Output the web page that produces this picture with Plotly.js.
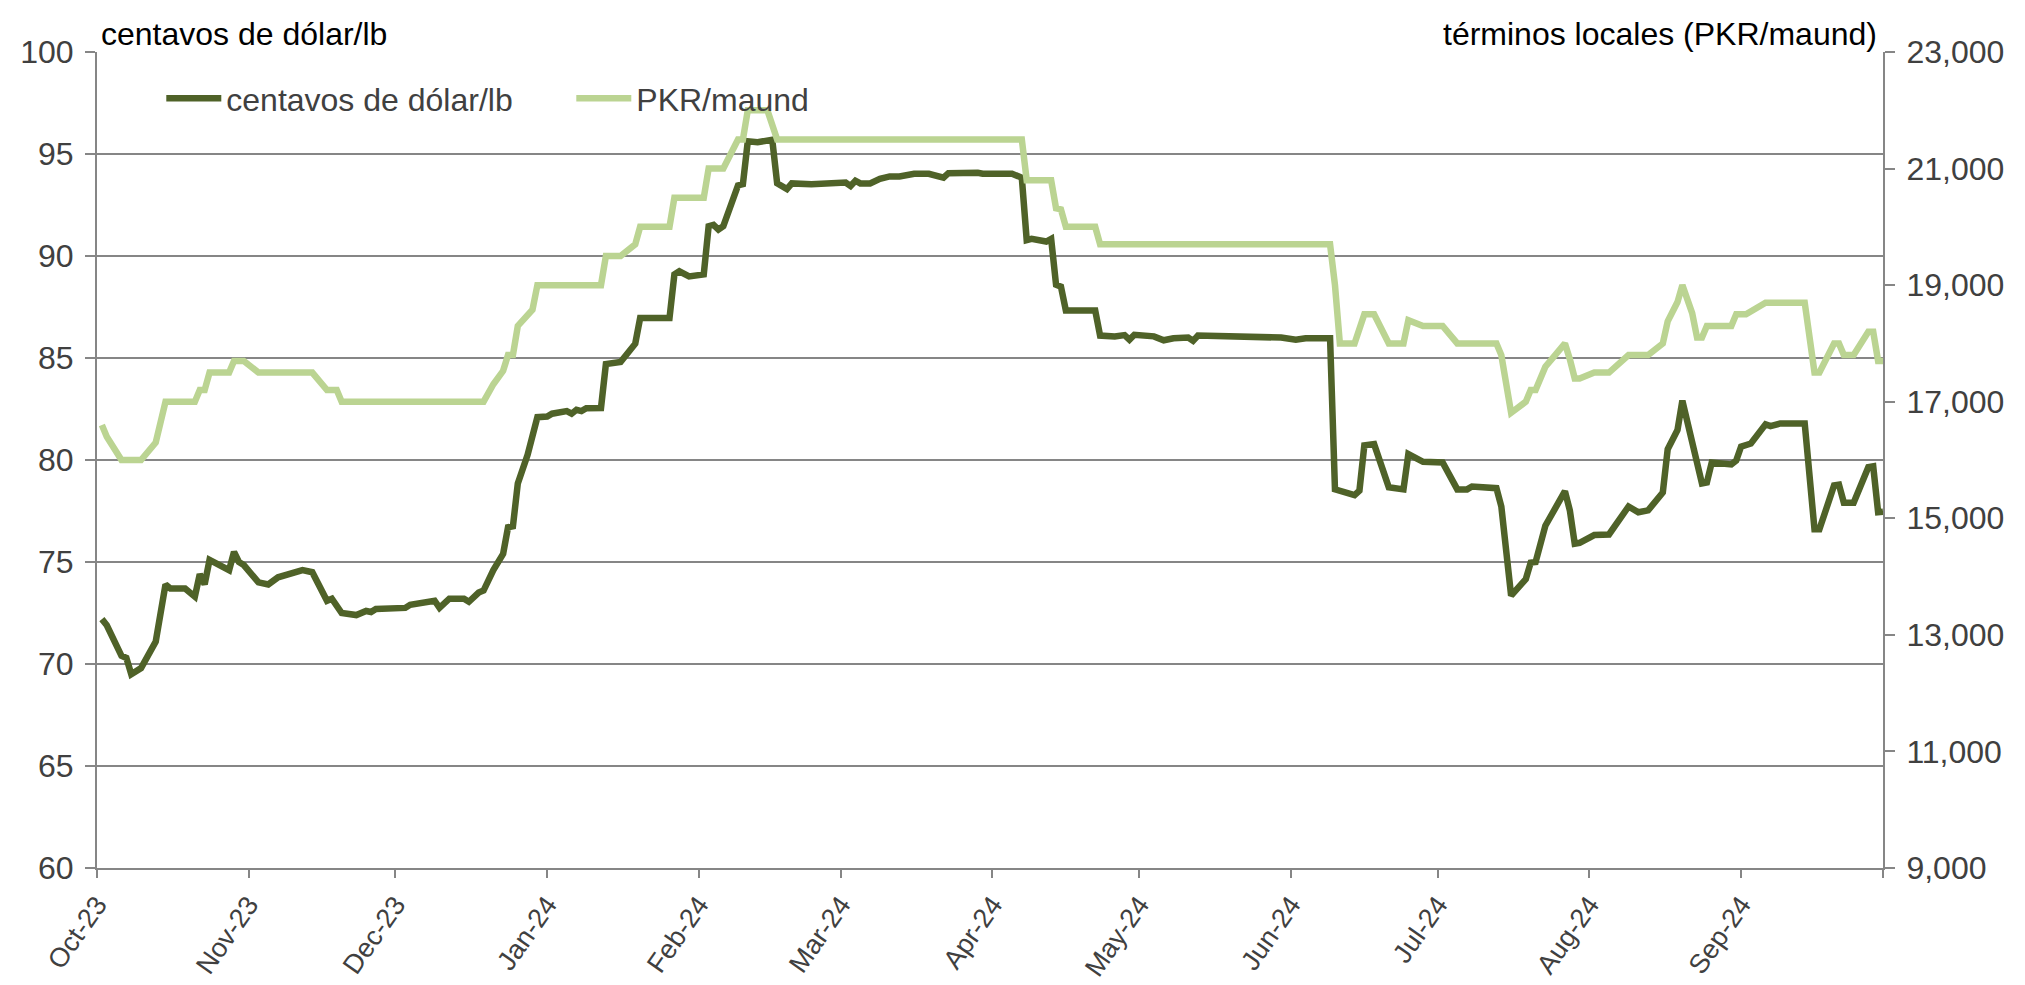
<!DOCTYPE html>
<html>
<head>
<meta charset="utf-8">
<script src="https://cdn.plot.ly/plotly-3.0.1.min.js"></script>
<style>
  html, body { margin: 0; padding: 0; background: #ffffff; }
  #chart { width: 2025px; height: 985px; }
</style>
</head>
<body>
<div id="chart"></div>
<script>
// ---- Data ----
const usdDates = [
  "2023-10-02","2023-10-03","2023-10-06","2023-10-07","2023-10-08","2023-10-10","2023-10-13","2023-10-15","2023-10-16","2023-10-19",
  "2023-10-21","2023-10-22","2023-10-23","2023-10-24","2023-10-28","2023-10-29","2023-10-30","2023-10-31","2023-11-03","2023-11-05",
  "2023-11-07","2023-11-12","2023-11-14","2023-11-17","2023-11-18","2023-11-20","2023-11-23","2023-11-25","2023-11-26","2023-11-27",
  "2023-12-03","2023-12-04","2023-12-09","2023-12-10","2023-12-12","2023-12-15","2023-12-16","2023-12-18","2023-12-19","2023-12-21",
  "2023-12-23","2023-12-24","2023-12-25","2023-12-26","2023-12-28","2023-12-30","2024-01-01","2024-01-02","2024-01-05","2024-01-06",
  "2024-01-07","2024-01-08","2024-01-09","2024-01-12","2024-01-13","2024-01-16","2024-01-19","2024-01-20","2024-01-26","2024-01-27",
  "2024-01-28","2024-01-30","2024-02-02","2024-02-03","2024-02-04","2024-02-05","2024-02-06","2024-02-09","2024-02-10","2024-02-11",
  "2024-02-13","2024-02-16","2024-02-17","2024-02-18","2024-02-19","2024-02-20","2024-02-24","2024-03-02","2024-03-03","2024-03-04",
  "2024-03-05","2024-03-07","2024-03-09","2024-03-11","2024-03-13","2024-03-16","2024-03-19","2024-03-22","2024-03-23","2024-03-29",
  "2024-03-30","2024-04-05","2024-04-07","2024-04-08","2024-04-09","2024-04-12","2024-04-13","2024-04-14","2024-04-15","2024-04-16",
  "2024-04-22","2024-04-23","2024-04-26","2024-04-28","2024-04-29","2024-04-30","2024-05-04","2024-05-06","2024-05-08","2024-05-11",
  "2024-05-12","2024-05-13","2024-05-24","2024-05-26","2024-05-30","2024-06-02","2024-06-04","2024-06-09","2024-06-10","2024-06-14",
  "2024-06-15","2024-06-16","2024-06-18","2024-06-21","2024-06-24","2024-06-25","2024-06-28","2024-07-02","2024-07-05","2024-07-07",
  "2024-07-08","2024-07-13","2024-07-14","2024-07-16","2024-07-19","2024-07-20","2024-07-21","2024-07-23","2024-07-25","2024-07-27",
  "2024-07-28","2024-07-29","2024-07-30","2024-08-02","2024-08-05","2024-08-09","2024-08-11","2024-08-13","2024-08-16","2024-08-17",
  "2024-08-19","2024-08-20","2024-08-24","2024-08-25","2024-08-26","2024-08-30","2024-08-31","2024-09-01","2024-09-03","2024-09-06",
  "2024-09-07","2024-09-09","2024-09-14","2024-09-16","2024-09-17","2024-09-20","2024-09-21","2024-09-22","2024-09-24","2024-09-27",
  "2024-09-28","2024-09-29","2024-09-30"
];
const usdCentsPerLb = [
  72.2,71.9,70.4,70.3,69.5,69.8,71.1,73.9,73.7,73.7,
  73.3,74.4,73.9,75.1,74.6,75.5,75.0,74.85,74.0,73.9,
  74.25,74.6,74.5,73.1,73.2,72.5,72.4,72.6,72.55,72.7,
  72.75,72.9,73.1,72.75,73.2,73.2,73.05,73.5,73.6,74.6,
  75.4,76.7,76.75,78.85,80.25,82.1,82.13,82.27,82.4,82.27,
  82.46,82.4,82.54,82.55,84.7,84.8,85.7,86.96,86.96,89.1,
  89.25,89.0,89.1,91.46,91.53,91.3,91.46,93.46,93.52,95.62,
  95.58,95.7,93.56,93.46,93.28,93.56,93.52,93.6,93.43,93.69,
  93.56,93.56,93.78,93.9,93.9,94.03,94.03,93.84,94.06,94.08,
  94.03,94.03,93.84,90.78,90.84,90.71,90.84,88.59,88.5,87.33,
  87.33,86.1,86.06,86.12,85.9,86.14,86.06,85.87,85.97,86.0,
  85.84,86.1,86.0,86.06,86.0,85.9,85.97,85.97,78.56,78.28,
  78.5,80.72,80.78,78.66,78.56,80.29,79.91,79.88,78.56,78.56,
  78.7,78.62,77.72,73.35,74.16,74.97,75.0,76.78,77.63,78.47,
  77.53,75.9,75.94,76.32,76.35,77.72,77.44,77.53,78.41,80.53,
  81.47,82.91,78.85,78.9,79.88,79.78,79.97,80.66,80.81,81.75,
  81.66,81.79,81.79,76.6,76.6,78.75,78.79,77.91,77.91,79.65,
  79.69,77.44,77.47
];
const pkrDates = [
  "2023-10-02","2023-10-03","2023-10-06","2023-10-10","2023-10-13","2023-10-15","2023-10-21","2023-10-22","2023-10-23","2023-10-24",
  "2023-10-28","2023-10-29","2023-10-31","2023-11-03","2023-11-14","2023-11-17","2023-11-19","2023-11-20","2023-12-19","2023-12-21",
  "2023-12-23","2023-12-24","2023-12-25","2023-12-26","2023-12-29","2023-12-30","2024-01-12","2024-01-13","2024-01-16","2024-01-19",
  "2024-01-20","2024-01-26","2024-01-27","2024-02-02","2024-02-03","2024-02-06","2024-02-09","2024-02-10","2024-02-11","2024-02-15",
  "2024-02-17","2024-04-07","2024-04-08","2024-04-13","2024-04-14","2024-04-15","2024-04-16","2024-04-22","2024-04-23","2024-06-09",
  "2024-06-10","2024-06-11","2024-06-14","2024-06-16","2024-06-18","2024-06-21","2024-06-24","2024-06-25","2024-06-28","2024-07-02",
  "2024-07-05","2024-07-13","2024-07-14","2024-07-16","2024-07-19","2024-07-20","2024-07-21","2024-07-23","2024-07-25","2024-07-27",
  "2024-07-28","2024-07-29","2024-07-30","2024-08-02","2024-08-05","2024-08-09","2024-08-13","2024-08-16","2024-08-17","2024-08-19",
  "2024-08-20","2024-08-22","2024-08-23","2024-08-24","2024-08-25","2024-08-30","2024-08-31","2024-09-02","2024-09-06","2024-09-14",
  "2024-09-16","2024-09-17","2024-09-20","2024-09-21","2024-09-22","2024-09-24","2024-09-27","2024-09-28","2024-09-29","2024-09-30"
];
const pkrPerMaund = [
  16600,16400,16000,16000,16300,17000,17000,17200,17200,17500,
  17500,17700,17700,17500,17500,17200,17200,17000,17000,17300,
  17530,17800,17800,18300,18580,19000,19000,19500,19500,19700,
  20000,20000,20500,20500,21000,21000,21500,21500,22000,22000,
  21500,21500,20800,20800,20320,20300,20000,20000,19700,19700,
  19000,18000,18000,18500,18500,18000,18000,18400,18300,18300,
  18000,18000,17800,16810,17000,17200,17200,17600,17800,18000,
  17730,17400,17400,17500,17500,17800,17800,18000,18380,18710,
  19000,18520,18100,18100,18300,18300,18500,18500,18700,18700,
  17500,17500,18000,18000,17800,17800,18200,18200,17700,17700
];
const monthTicks = ["2023-10-01","2023-11-01","2023-12-01","2024-01-01","2024-02-01","2024-03-01",
                    "2024-04-01","2024-05-01","2024-06-01","2024-07-01","2024-08-01","2024-09-01","2024-09-30"];
const monthLabels = ["Oct-23","Nov-23","Dec-23","Jan-24","Feb-24","Mar-24",
                     "Apr-24","May-24","Jun-24","Jul-24","Aug-24","Sep-24",""];
const seriesNames = ["centavos de dólar/lb", "PKR/maund"];
const leftTitle = "centavos de dólar/lb";
const rightTitle = "términos locales (PKR/maund)";

// ---- Style ----
const FONT = "'Liberation Sans', Arial, Helvetica, sans-serif";
const GRID = "#868686";
const TXT = "#404040";

const traces = [
  {
    x: usdDates, y: usdCentsPerLb, name: seriesNames[0], type: "scatter", mode: "lines",
    line: { color: "#4F6228", width: 6.5, shape: "linear" }, yaxis: "y", hoverinfo: "x+y"
  },
  {
    x: pkrDates, y: pkrPerMaund, name: seriesNames[1], type: "scatter", mode: "lines",
    line: { color: "#BBD492", width: 6.5, shape: "linear" }, yaxis: "y2", hoverinfo: "x+y"
  }
];

const layout = {
  width: 2025, height: 985,
  margin: { l: 97, r: 142, t: 52, b: 117, pad: 0 },
  paper_bgcolor: "#ffffff", plot_bgcolor: "#ffffff",
  font: { family: FONT, size: 30, color: TXT },
  showlegend: true,
  legend: {
    orientation: "h", x: 0.036, y: 0.943, xanchor: "left", yanchor: "middle",
    bgcolor: "rgba(0,0,0,0)", borderwidth: 0,
    font: { family: FONT, size: 32, color: TXT },
    entrywidth: 340, entrywidthmode: "pixels", itemwidth: 55, tracegroupgap: 0
  },
  xaxis: {
    type: "date", range: ["2023-10-01", "2024-09-30"],
    tickmode: "array", tickvals: monthTicks, ticktext: monthLabels,
    tickangle: -55, ticks: "outside", ticklen: 8, tickwidth: 2, tickcolor: GRID,
    showline: true, linecolor: GRID, linewidth: 2, showgrid: false, zeroline: false,
    tickfont: { family: FONT, size: 27, color: TXT }
  },
  yaxis: {
    range: [60, 100], tickmode: "linear", tick0: 60, dtick: 5,
    ticks: "outside", ticklen: 10, tickwidth: 2, tickcolor: GRID, ticklabelstandoff: 5,
    showline: true, linecolor: GRID, linewidth: 2,
    showgrid: true, gridcolor: GRID, gridwidth: 2, zeroline: false,
    tickfont: { family: FONT, size: 32, color: TXT }
  },
  yaxis2: {
    overlaying: "y", side: "right", range: [9000, 23000], tickmode: "linear", tick0: 9000, dtick: 2000,
    tickformat: ",d", ticks: "outside", ticklen: 10, tickwidth: 2, tickcolor: GRID, ticklabelstandoff: 5,
    showline: true, linecolor: GRID, linewidth: 2, showgrid: false, zeroline: false,
    tickfont: { family: FONT, size: 32, color: TXT }
  },
  annotations: [
    { text: leftTitle, xref: "paper", yref: "paper", x: 0, y: 1, xanchor: "left", yanchor: "bottom",
      xshift: 2, yshift: -2, showarrow: false, font: { family: FONT, size: 32, color: "#000000" } },
    { text: rightTitle, xref: "paper", yref: "paper", x: 1, y: 1, xanchor: "right", yanchor: "bottom",
      xshift: -4, yshift: -2, showarrow: false, font: { family: FONT, size: 32, color: "#000000" } }
  ]
};

Plotly.newPlot("chart", traces, layout, { displayModeBar: false, staticPlot: true });
</script>
</body>
</html>
